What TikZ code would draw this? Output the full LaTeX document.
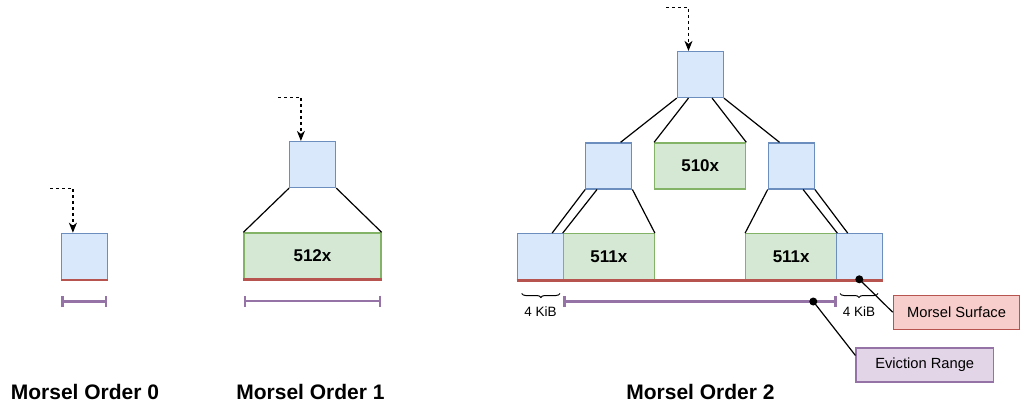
\documentclass[tikz,border=0pt]{standalone}
\usepackage{fontspec}
\setmainfont{Liberation Sans}
\usetikzlibrary{arrows.meta,decorations.pathreplacing,calc}

\definecolor{blueFill}{HTML}{DAE8FC}
\definecolor{blueLine}{HTML}{6C8EBF}
\definecolor{greenFill}{HTML}{D5E8D4}
\definecolor{greenLine}{HTML}{82B366}
\definecolor{redFill}{HTML}{F8CECC}
\definecolor{redLine}{HTML}{B85450}
\definecolor{purpleFill}{HTML}{E1D5E7}
\definecolor{purpleLine}{HTML}{9673A6}

\tikzset{
  canvas/.style={fill=white,draw=none},
  pagebox/.style={draw=blueLine,fill=blueFill,line width=1.2pt,minimum width=46pt,minimum height=46pt,inner sep=0pt},
  runbox/.style={draw=greenLine,fill=greenFill,line width=1.2pt,minimum height=46pt,inner sep=0pt,
    font=\fontsize{17}{19}\selectfont\bfseries},
  treelink/.style={line width=1.2pt,black},
  entryarrow/.style={line width=1.2pt,dashed,dash pattern=on 3pt off 3pt,-{Stealth[length=10pt,width=8pt,inset=3pt]}},
  surfaceline/.style={line width=2.4pt,redLine},
  evrange/.style={line width=2.4pt,purpleLine,{Bar[width=11pt]}-{Bar[width=11pt]}},
  ordertitle/.style={font=\fontsize{21}{24}\selectfont\bfseries,anchor=base},
  sizelabel/.style={font=\fontsize{13.5}{16}\selectfont,anchor=base},
  bracefig/.style={decorate,decoration={brace,mirror,amplitude=4pt},line width=1pt},
  callout/.style={line width=1.2pt,minimum height=34pt,inner sep=0pt,font=\fontsize{14.7}{17}\selectfont},
  dotmark/.style={circle,fill=black,inner sep=0pt,minimum size=8pt},
  leaderline/.style={line width=1.2pt,black}
}

\begin{document}
\begin{tikzpicture}[x=1pt,y=-1pt]
\useasboundingbox[canvas] (0,0) rectangle (1020,407);

% ---------- Morsel Order 0 ----------
\node[pagebox] (o0) at (84.7,256.3) {};
\draw[surfaceline] (o0.south west) -- (o0.south east);
\coordinate (o0in) at (50,188.3);
\draw[entryarrow] (o0in) -| ($(o0.north west)!0.25!(o0.north east)$);
\coordinate (o0a) at (61.3,301.5);
\coordinate (o0b) at (107.3,301.5);
\draw[evrange] (o0a) -- (o0b);
\node[ordertitle] (t0) at (85,399.5) {Morsel Order 0};

% ---------- Morsel Order 1 ----------
\node[pagebox] (o1top) at (312.7,164.5) {};
\node[runbox,minimum width=137pt] (o1run) at (312.5,255.9) {512x};
\draw[treelink] (o1top.south west) -- (o1run.north west);
\draw[treelink] (o1top.south east) -- (o1run.north east);
\draw[surfaceline] (o1run.south west) -- (o1run.south east);
\coordinate (o1in) at (278,97.3);
\draw[entryarrow] (o1in) -| ($(o1top.north west)!0.25!(o1top.north east)$);
\coordinate (o1a) at (244,301);
\coordinate (o1b) at (381,301);
\draw[evrange] (o1a) -- (o1b);
\node[ordertitle] (t1) at (310.5,399.5) {Morsel Order 1};

% ---------- Morsel Order 2 ----------
\node[pagebox] (root) at (700.3,74.5) {};
\node[pagebox] (ml) at (608.8,165.9) {};
\node[runbox,minimum width=91pt] (r510) at (700.2,165.9) {510x};
\node[pagebox] (mr) at (791.3,165.9) {};
\node[pagebox] (bl) at (540.3,256.7) {};
\node[runbox,minimum width=91pt] (r511a) at (608.8,256.7) {511x};
\node[runbox,minimum width=91pt] (r511b) at (791.2,256.7) {511x};
\node[pagebox] (br) at (859.5,256.7) {};

% root to second level
\draw[treelink] (root.south west) -- ($(ml.north west)!0.75!(ml.north east)$);
\draw[treelink] ($(root.south west)!0.25!(root.south east)$) -- (r510.north west);
\draw[treelink] ($(root.south west)!0.75!(root.south east)$) -- (r510.north east);
\draw[treelink] (root.south east) -- ($(mr.north west)!0.25!(mr.north east)$);
% left subtree
\draw[treelink] (ml.south west) -- ($(bl.north west)!0.75!(bl.north east)$);
\draw[treelink] ($(ml.south west)!0.25!(ml.south east)$) -- (r511a.north west);
\draw[treelink] (ml.south east) -- (r511a.north east);
% right subtree
\draw[treelink] (mr.south west) -- (r511b.north west);
\draw[treelink] ($(mr.south west)!0.75!(mr.south east)$) -- (r511b.north east);
\draw[treelink] (mr.south east) -- ($(br.north west)!0.25!(br.north east)$);

\draw[surfaceline] (bl.south west) -- (br.south east);
\coordinate (o2in) at (666,7.3);
\draw[entryarrow] (o2in) -| ($(root.north west)!0.25!(root.north east)$);

% eviction range and the two 4 KiB pages outside it
\coordinate (o2a) at (563.3,301.5);
\coordinate (o2b) at (836.7,301.5);
\draw[evrange] (o2a) -- (o2b);
\coordinate (bra) at (521.7,293.5);
\coordinate (brb) at (560,293.5);
\draw[bracefig] (bra) -- (brb);
\node[sizelabel] (kl) at (540.5,316) {4 KiB};
\coordinate (brc) at (840,293.5);
\coordinate (brd) at (878,293.5);
\draw[bracefig] (brc) -- (brd);
\node[sizelabel] (kr) at (859,316) {4 KiB};

% callouts
\node[callout,draw=redLine,fill=redFill,minimum width=126.7pt] (surf) at (956.6,312.2) {Morsel Surface};
\node[callout,draw=purpleLine,fill=purpleFill,minimum width=137.3pt] (evict) at (924.7,365) {Eviction Range};
\node[dotmark] (sdot) at (859.3,279.3) {};
\node[dotmark] (edot) at (813.3,301.5) {};
\draw[leaderline] (sdot.center) -- (surf.west);
\draw[leaderline] (edot.center) -- ($(evict.north west)!0.23!(evict.south west)$);

\node[ordertitle] (t2) at (700.5,399.5) {Morsel Order 2};
\end{tikzpicture}
\end{document}
